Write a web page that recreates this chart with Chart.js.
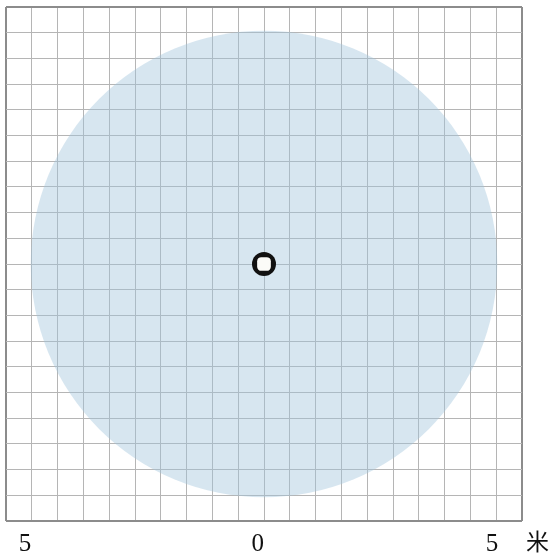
<!DOCTYPE html>
<html>
<head>
<meta charset="utf-8">
<script src="https://cdn.jsdelivr.net/npm/chart.js@4"></script>
<style>
  html, body { margin: 0; padding: 0; background: #fff; }
  #wrap { width: 552px; height: 557px; }
</style>
</head>
<body>
<div id="wrap"><canvas id="rangeChart"></canvas></div>
<script>
// grid extent and spacing (metres)
const axisMin = -5;
const axisMax = 5;
const gridStep = 0.5;

// coverage circle and the device at its centre
const coverageCenter = [{ x: 0, y: 0 }];
const coverageRadius = [4.52];

// labels under the grid and where they sit on the x scale
const bottomLabels = ['5', '0', '5', '米'];
const bottomLabelAt = [-4.63, -0.12, 4.42, 5.3];

document.addEventListener('DOMContentLoaded', () => {
    // radius in metres -> pixels, through the x scale
    const metresToPx = (chart, m) => {
        const s = chart.scales.x;
        return Math.abs(s.getPixelForValue(m) - s.getPixelForValue(0));
    };

    const labelPlugin = {
        id: 'bottomLabels',
        afterDraw(chart) {
            const ctx = chart.ctx;
            const xs = chart.scales.x;
            const base = chart.chartArea.bottom;
            ctx.save();
            ctx.fillStyle = '#111';
            ctx.textAlign = 'center';
            ctx.textBaseline = 'middle';
            bottomLabels.forEach((t, i) => {
                const isNum = /[0-9]/.test(t);
                ctx.font = isNum ? '25px "Liberation Serif", serif' : '23px "Noto Sans CJK SC"';
                ctx.fillText(t, xs.getPixelForValue(bottomLabelAt[i]), base + (isNum ? 23 : 20));
            });
            ctx.restore();
        }
    };

    const gridColor = c => (c.tick && Math.abs(c.tick.value) === axisMax) ? '#8c8c8c' : '#b5b5b5';
    const gridWidth = c => (c.tick && Math.abs(c.tick.value) === axisMax) ? 2 : 1;

    const axis = {
        type: 'linear',
        min: axisMin,
        max: axisMax,
        ticks: { display: false, stepSize: gridStep },
        grid: { color: gridColor, lineWidth: gridWidth, drawTicks: false },
        border: { display: false }
    };

    const config = {
        type: 'scatter',
        data: {
            datasets: [
                {
                    // white square in the middle of the marker
                    data: coverageCenter,
                    pointStyle: 'rectRounded',
                    pointRadius: 8,
                    backgroundColor: '#fbfbf8',
                    borderWidth: 0,
                    order: 1
                },
                {
                    // black ring of the marker
                    data: coverageCenter,
                    pointStyle: 'circle',
                    pointRadius: 12,
                    backgroundColor: '#111',
                    borderWidth: 0,
                    order: 2
                },
                {
                    // coverage area
                    data: coverageCenter.map((p, i) => ({ x: p.x, y: p.y, r: coverageRadius[i] })),
                    pointStyle: 'circle',
                    pointRadius: c => metresToPx(c.chart, c.raw.r),
                    backgroundColor: 'rgba(160, 196, 220, 0.42)',
                    borderWidth: 0,
                    order: 3
                }
            ]
        },
        options: {
            responsive: true,
            maintainAspectRatio: false,
            animation: false,
            events: [],
            layout: { autoPadding: false, padding: { left: 6, top: 7, right: 30, bottom: 36 } },
            plugins: {
                legend: { display: false },
                tooltip: { enabled: false }
            },
            scales: {
                x: axis,
                y: axis
            }
        },
        plugins: [labelPlugin]
    };

    const ctx = document.getElementById('rangeChart').getContext('2d');
    new Chart(ctx, config);
});
</script>
</body>
</html>
